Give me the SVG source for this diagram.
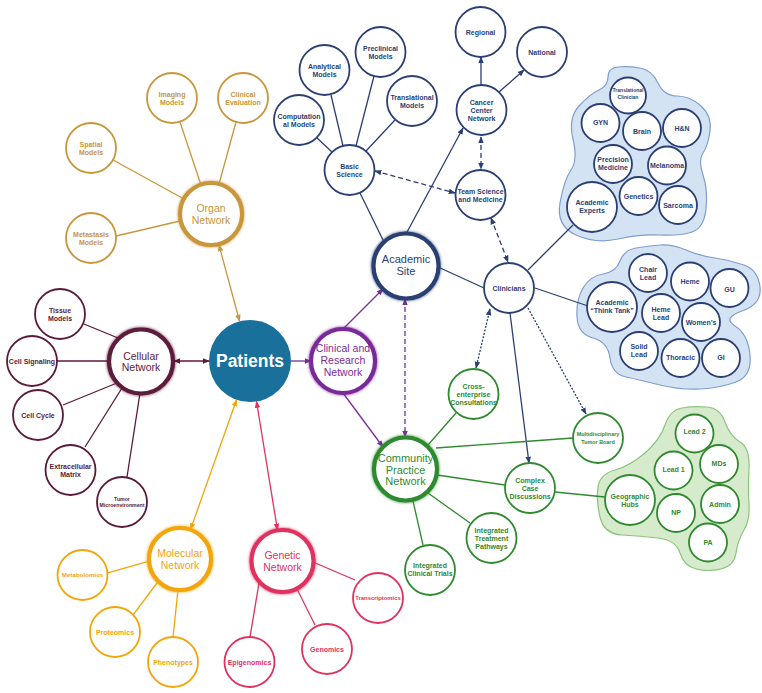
<svg xmlns="http://www.w3.org/2000/svg" width="762" height="693" viewBox="0 0 762 693">
<style>
text{font-family:'Liberation Sans Narrow','Liberation Sans',Arial,sans-serif;text-anchor:middle}
.s{font-size:7px;font-weight:bold}
.h{font-size:10.5px}
.n{fill:#fff;stroke-width:1.8}
.hub{fill:#fff;stroke-width:4.2}
.ln{fill:none;stroke-width:1.3}
.org{stroke:#c8963c}.torg{fill:#c8963c}
.cel{stroke:#5b1a3a}.tcel{fill:#5b1a3a}
.mol{stroke:#f2a50a}.tmol{fill:#f2a50a}
.gen{stroke:#e0325e}.tgen{fill:#e0325e}
.nav{stroke:#2b3f73}.tnav{fill:#2b3f73}
.pur{stroke:#7a2c98}.tpur{fill:#7a2c98}
.grn{stroke:#2f8a2f}.tgrn{fill:#2f8a2f}
.dash{stroke-dasharray:5 3}
.dot{stroke-dasharray:2 1.5}
.blobB{fill:#d3e3f3;stroke:#7f9fcb;stroke-width:1.2}
.blobG{fill:#d5ebcb;stroke:#8cc47e;stroke-width:1.2}
</style>
<defs>
<filter id="glow" x="-25%" y="-25%" width="150%" height="150%"><feGaussianBlur stdDeviation="1.4" result="b"/><feMerge><feMergeNode in="b"/><feMergeNode in="SourceGraphic"/></feMerge></filter>
<marker id="a-org" viewBox="0 0 10 10" refX="9" refY="5" markerWidth="7" markerHeight="7" markerUnits="userSpaceOnUse" orient="auto-start-reverse"><path d="M0,1 L10,5 L0,9 z" fill="#c8963c"/></marker>
<marker id="a-cel" viewBox="0 0 10 10" refX="9" refY="5" markerWidth="7" markerHeight="7" markerUnits="userSpaceOnUse" orient="auto-start-reverse"><path d="M0,1 L10,5 L0,9 z" fill="#5b1a3a"/></marker>
<marker id="a-mol" viewBox="0 0 10 10" refX="9" refY="5" markerWidth="7" markerHeight="7" markerUnits="userSpaceOnUse" orient="auto-start-reverse"><path d="M0,1 L10,5 L0,9 z" fill="#f2a50a"/></marker>
<marker id="a-gen" viewBox="0 0 10 10" refX="9" refY="5" markerWidth="7" markerHeight="7" markerUnits="userSpaceOnUse" orient="auto-start-reverse"><path d="M0,1 L10,5 L0,9 z" fill="#e0325e"/></marker>
<marker id="a-pur" viewBox="0 0 10 10" refX="9" refY="5" markerWidth="7" markerHeight="7" markerUnits="userSpaceOnUse" orient="auto-start-reverse"><path d="M0,1 L10,5 L0,9 z" fill="#7a2c98"/></marker>
<marker id="a-nav" viewBox="0 0 10 10" refX="9" refY="5" markerWidth="7" markerHeight="7" markerUnits="userSpaceOnUse" orient="auto-start-reverse"><path d="M0,1 L10,5 L0,9 z" fill="#2b3f73"/></marker>
</defs>
<rect width="762" height="693" fill="#fff"/>

<g id="clusters">
<path id="blob-experts" class="blobB" d="M640,68 Q652,70 658,83 Q664,96 677,96 Q690,96 701,106 Q712,116 710,131 Q708,146 703,153 Q698,160 703,175 Q708,190 706,209 Q704,228 692,232 Q680,236 660,235 Q640,234 618,239 Q596,244 576,235 Q556,226 560,203 Q564,180 571,170 Q578,160 573,139 Q568,118 579,106 Q590,94 599,90 Q608,86 608,77 Q608,68 618,67 Q628,66 640,68 Z"/>
<path id="blob-thinktank" class="blobB" d="M660,245 Q672,244 686,250 Q700,256 715,258 Q730,260 744,265 Q758,270 760,287 Q762,304 742,311 Q722,318 735,326 Q748,334 750,355 Q752,376 736,382 Q720,388 700,389 Q680,390 660,385 Q640,380 626,377 Q612,374 610,358 Q608,342 593,338 Q578,334 577,317 Q576,300 583,288 Q590,276 603,274 Q616,272 620,261 Q624,250 636,248 Q648,246 660,245 Z"/>
<path id="blob-hubs" class="blobG" d="M707,407 Q720,408 725,422 Q730,436 740,442 Q750,448 749,468 Q748,488 749,504 Q750,520 744,530 Q738,540 736,553 Q734,566 721,569 Q708,572 696,569 Q684,566 680,553 Q676,540 658,538 Q640,536 622,535 Q604,534 600,517 Q596,500 598,487 Q600,474 615,470 Q630,466 645,453 Q660,440 665,425 Q670,410 682,408 Q694,406 707,407 Z"/>
</g>

<g id="connectors">
<!-- organ -->
<line class="ln org" x1="201" y1="185" x2="180" y2="122"/>
<line class="ln org" x1="219" y1="184" x2="236" y2="122"/>
<line class="ln org" x1="184" y1="199" x2="113" y2="160"/>
<line class="ln org" x1="180" y1="221" x2="116" y2="236"/>
<line class="ln org" x1="219" y1="245" x2="239.5" y2="321" marker-start="url(#a-org)" marker-end="url(#a-org)"/>
<!-- cellular -->
<line class="ln cel" x1="118" y1="338" x2="84" y2="324"/>
<line class="ln cel" x1="109" y1="361" x2="57" y2="361"/>
<line class="ln cel" x1="117" y1="383" x2="63" y2="405"/>
<line class="ln cel" x1="122" y1="388" x2="85" y2="447"/>
<line class="ln cel" x1="140" y1="393" x2="127" y2="477"/>
<line class="ln cel" x1="174" y1="361" x2="209" y2="361" marker-start="url(#a-cel)" marker-end="url(#a-cel)"/>
<!-- molecular -->
<line class="ln mol" x1="149" y1="561" x2="107" y2="573"/>
<line class="ln mol" x1="157" y1="583" x2="133" y2="615"/>
<line class="ln mol" x1="178" y1="590" x2="173" y2="637"/>
<line class="ln mol" x1="190.5" y1="529.5" x2="236.5" y2="400" marker-start="url(#a-mol)" marker-end="url(#a-mol)"/>
<!-- genetic -->
<line class="ln gen" x1="259" y1="583" x2="250" y2="637"/>
<line class="ln gen" x1="297" y1="589" x2="315" y2="625"/>
<line class="ln gen" x1="313" y1="562" x2="355" y2="580"/>
<line class="ln gen" x1="277.5" y1="530" x2="256.5" y2="401.5" marker-start="url(#a-gen)" marker-end="url(#a-gen)"/>
<!-- clinical and research -->
<line class="ln pur" x1="291" y1="361" x2="311" y2="361" marker-end="url(#a-pur)"/>
<line class="ln pur" x1="343" y1="329" x2="383" y2="289" marker-end="url(#a-pur)"/>
<line class="ln pur" x1="343" y1="393" x2="383" y2="447" marker-end="url(#a-pur)"/>
<line class="ln pur dash" x1="405" y1="299" x2="405" y2="437" marker-start="url(#a-pur)" marker-end="url(#a-pur)"/>
<!-- academic -->
<line class="ln nav" x1="332" y1="152" x2="317" y2="138"/>
<line class="ln nav" x1="343" y1="146" x2="331" y2="95"/>
<line class="ln nav" x1="356" y1="146" x2="374" y2="76"/>
<line class="ln nav" x1="366" y1="151" x2="395" y2="120"/>
<line class="ln nav" x1="360" y1="193" x2="384" y2="242"/>
<line class="ln nav" x1="406" y1="234" x2="463" y2="128" marker-end="url(#a-nav)"/>
<line class="ln nav" x1="481" y1="85" x2="481" y2="57" marker-end="url(#a-nav)"/>
<line class="ln nav" x1="499" y1="92" x2="524" y2="70" marker-end="url(#a-nav)"/>
<line class="ln nav dash" x1="481" y1="137" x2="481" y2="169" marker-start="url(#a-nav)" marker-end="url(#a-nav)"/>
<line class="ln nav dash" x1="375" y1="171" x2="455" y2="193" marker-start="url(#a-nav)" marker-end="url(#a-nav)"/>
<line class="ln nav dash" x1="491" y1="218" x2="508" y2="262" marker-start="url(#a-nav)" marker-end="url(#a-nav)"/>
<line class="ln nav" x1="438" y1="267" x2="484" y2="288"/>
<line class="ln nav" x1="528" y1="270" x2="573" y2="225"/>
<line class="ln nav" x1="535" y1="288" x2="588" y2="306"/>
<line class="ln nav" x1="510" y1="313" x2="529" y2="463" marker-end="url(#a-nav)"/>
<line class="ln nav dot" x1="490" y1="309" x2="476" y2="368" marker-start="url(#a-nav)" marker-end="url(#a-nav)"/>
<line class="ln nav dot" x1="528" y1="308" x2="586" y2="414" marker-end="url(#a-nav)"/>
<!-- community -->
<line class="ln grn" x1="428" y1="445" x2="456" y2="413"/>
<line class="ln grn" x1="436" y1="448" x2="573" y2="438"/>
<line class="ln grn" x1="437" y1="475" x2="505" y2="485"/>
<line class="ln grn" x1="428" y1="493" x2="470" y2="523"/>
<line class="ln grn" x1="413" y1="501" x2="423" y2="545"/>
<line class="ln grn" x1="555" y1="492" x2="605" y2="497"/>
</g>

<g id="patients"><circle cx="250" cy="361" r="41" fill="#19709b"/><text x="250" y="367" style="font-size:17.5px;font-weight:bold" fill="#fff">Patients</text></g>

<g id="organ-network"><circle class="hub org" cx="211" cy="214" r="31" filter="url(#glow)"/><text class="h torg" x="211" y="212">Organ<tspan x="211" dy="11.5">Network</tspan></text></g>
<g id="imaging-models"><circle class="n org" cx="172" cy="98" r="25"/><text class="s torg" x="172" y="96.5">Imaging<tspan x="172" dy="8">Models</tspan></text></g>
<g id="clinical-evaluation"><circle class="n org" cx="243" cy="98" r="25"/><text class="s torg" x="243" y="96.5">Clinical<tspan x="243" dy="8">Evaluation</tspan></text></g>
<g id="spatial-models"><circle class="n org" cx="91" cy="148" r="25"/><text class="s torg" x="91" y="146.5">Spatial<tspan x="91" dy="8">Models</tspan></text></g>
<g id="metastasis-models"><circle class="n org" cx="91" cy="238" r="25"/><text class="s torg" x="91" y="236.5">Metastasis<tspan x="91" dy="8">Models</tspan></text></g>

<g id="cellular-network"><circle class="hub cel" cx="141" cy="361.5" r="32" filter="url(#glow)"/><text class="h tcel" x="141" y="359.5">Cellular<tspan x="141" dy="11.5">Network</tspan></text></g>
<g id="tissue-models"><circle class="n cel" cx="60" cy="314" r="25"/><text class="s tcel" x="60" y="312.5">Tissue<tspan x="60" dy="8">Models</tspan></text></g>
<g id="cell-signaling"><circle class="n cel" cx="32" cy="361" r="25"/><text class="s tcel" x="32" y="363.5">Cell Signaling</text></g>
<g id="cell-cycle"><circle class="n cel" cx="38" cy="415" r="25"/><text class="s tcel" x="38" y="417.5">Cell Cycle</text></g>
<g id="extracellular-matrix"><circle class="n cel" cx="70.5" cy="470" r="25"/><text class="s tcel" x="70.5" y="468.5">Extracellular<tspan x="70.5" dy="8">Matrix</tspan></text></g>
<g id="tumor-microenvironment"><circle class="n cel" cx="122" cy="502" r="25"/><text class="s tcel" style="font-size:5.2px" x="122" y="501">Tumor<tspan x="122" dy="5.8">Microenvironment</tspan></text></g>

<g id="molecular-network"><circle class="hub mol" cx="180" cy="559" r="31" filter="url(#glow)"/><text class="h tmol" x="180" y="557">Molecular<tspan x="180" dy="11.5">Network</tspan></text></g>
<g id="metabolomics"><circle class="n mol" cx="82.5" cy="575" r="25"/><text class="s tmol" style="font-size:6.2px" x="82.5" y="577.2">Metabolomics</text></g>
<g id="proteomics"><circle class="n mol" cx="115" cy="632" r="25"/><text class="s tmol" x="115" y="634.5">Proteomics</text></g>
<g id="phenotypes"><circle class="n mol" cx="173" cy="662" r="25"/><text class="s tmol" x="173" y="664.5">Phenotypes</text></g>

<g id="genetic-network"><circle class="hub gen" cx="282.5" cy="561" r="31" filter="url(#glow)"/><text class="h tgen" x="282.5" y="559">Genetic<tspan x="282.5" dy="11.5">Network</tspan></text></g>
<g id="epigenomics"><circle class="n gen" cx="249.5" cy="662" r="25"/><text class="s tgen" x="249.5" y="664.5">Epigenomics</text></g>
<g id="genomics"><circle class="n gen" cx="327" cy="649" r="25"/><text class="s tgen" x="327" y="651.5">Genomics</text></g>
<g id="transcriptomics"><circle class="n gen" cx="378" cy="598" r="25"/><text class="s tgen" style="font-size:5.9px" x="378" y="600">Transcriptomics</text></g>

<g id="clinical-research-network"><circle class="hub pur" cx="343" cy="361" r="32" filter="url(#glow)"/><text class="h tpur" x="343" y="352">Clinical and<tspan x="343" dy="11.8">Research</tspan><tspan x="343" dy="11.8">Network</tspan></text></g>

<g id="academic-site"><circle class="hub nav" cx="406" cy="266" r="32.5" filter="url(#glow)"/><text class="h tnav" x="406" y="263" style="font-size:11px">Academic<tspan x="406" dy="11.7">Site</tspan></text></g>
<g id="basic-science"><circle class="n nav" cx="349.5" cy="170" r="25"/><text class="s tnav" x="349.5" y="168.5">Basic<tspan x="349.5" dy="8">Science</tspan></text></g>
<g id="computational-models"><circle class="n nav" cx="299" cy="120" r="25"/><text class="s tnav" x="299" y="118.5">Computation<tspan x="299" dy="8">al Models</tspan></text></g>
<g id="analytical-models"><circle class="n nav" cx="324.5" cy="70" r="25"/><text class="s tnav" x="324.5" y="68.5">Analytical<tspan x="324.5" dy="8">Models</tspan></text></g>
<g id="preclinical-models"><circle class="n nav" cx="380.5" cy="52" r="25"/><text class="s tnav" x="380.5" y="50.5">Preclinical<tspan x="380.5" dy="8">Models</tspan></text></g>
<g id="translational-models"><circle class="n nav" cx="412" cy="101" r="25"/><text class="s tnav" x="412" y="99.5">Translational<tspan x="412" dy="8">Models</tspan></text></g>
<g id="cancer-center-network"><circle class="n nav" cx="481.5" cy="110" r="25"/><text class="s tnav" x="481.5" y="104.5">Cancer<tspan x="481.5" dy="8.2">Center</tspan><tspan x="481.5" dy="8.2">Network</tspan></text></g>
<g id="regional"><circle class="n nav" cx="480.5" cy="32" r="25"/><text class="s tnav" x="480.5" y="34.5">Regional</text></g>
<g id="national"><circle class="n nav" cx="542" cy="52" r="25"/><text class="s tnav" x="542" y="54.5">National</text></g>
<g id="team-science"><circle class="n nav" cx="480.5" cy="195" r="25"/><text class="s tnav" x="480.5" y="193.5">Team Science<tspan x="480.5" dy="8">and Medicine</tspan></text></g>
<g id="clinicians"><circle class="n nav" cx="509" cy="288" r="25"/><text class="s tnav" x="509" y="290.5">Clinicians</text></g>

<g id="translational-clinician"><circle class="n nav" cx="628" cy="95.5" r="18"/><text class="s tnav" style="font-size:5px" x="628" y="92">Translational<tspan x="628" dy="6.5">Clinician</tspan></text></g>
<g id="gyn"><circle class="n nav" cx="600.5" cy="123" r="19"/><text class="s tnav" x="600.5" y="125.3">GYN</text></g>
<g id="brain"><circle class="n nav" cx="642" cy="131" r="19"/><text class="s tnav" x="642" y="133.5">Brain</text></g>
<g id="hn"><circle class="n nav" cx="682" cy="128" r="19"/><text class="s tnav" x="682" y="130.5">H&amp;N</text></g>
<g id="precision-medicine"><circle class="n nav" cx="613" cy="164" r="19"/><text class="s tnav" x="613" y="162">Precision<tspan x="613" dy="8">Medicine</tspan></text></g>
<g id="melanoma"><circle class="n nav" cx="667" cy="165.5" r="19"/><text class="s tnav" x="667" y="168">Melanoma</text></g>
<g id="genetics"><circle class="n nav" cx="638.5" cy="196" r="19"/><text class="s tnav" x="638.5" y="198.5">Genetics</text></g>
<g id="sarcoma"><circle class="n nav" cx="678" cy="205" r="19"/><text class="s tnav" x="678" y="207.5">Sarcoma</text></g>
<g id="academic-experts"><circle class="n nav" cx="592" cy="207" r="25"/><text class="s tnav" x="592" y="205.2">Academic<tspan x="592" dy="8">Experts</tspan></text></g>

<g id="academic-think-tank"><circle class="n nav" cx="612" cy="307" r="25"/><text class="s tnav" x="612" y="305.2">Academic<tspan x="612" dy="8">“Think Tank”</tspan></text></g>
<g id="chair-lead"><circle class="n nav" cx="648" cy="273" r="19"/><text class="s tnav" x="648" y="271.8">Chair<tspan x="648" dy="7.8">Lead</tspan></text></g>
<g id="heme"><circle class="n nav" cx="690" cy="281.5" r="19"/><text class="s tnav" x="690" y="283.8">Heme</text></g>
<g id="gu"><circle class="n nav" cx="729.5" cy="288" r="19"/><text class="s tnav" x="729.5" y="291.5">GU</text></g>
<g id="heme-lead"><circle class="n nav" cx="661" cy="313" r="19"/><text class="s tnav" x="661" y="311.8">Heme<tspan x="661" dy="8">Lead</tspan></text></g>
<g id="womens"><circle class="n nav" cx="701" cy="322" r="19"/><text class="s tnav" x="701" y="324.5">Women’s</text></g>
<g id="solid-lead"><circle class="n nav" cx="639" cy="351" r="19"/><text class="s tnav" x="639" y="349.2">Solid<tspan x="639" dy="8">Lead</tspan></text></g>
<g id="thoracic"><circle class="n nav" cx="680.5" cy="358" r="19"/><text class="s tnav" x="680.5" y="360.2">Thoracic</text></g>
<g id="gi"><circle class="n nav" cx="721" cy="358" r="19"/><text class="s tnav" x="721" y="360.2">GI</text></g>

<g id="community-practice-network"><circle class="hub grn" cx="405.5" cy="469" r="31.5" filter="url(#glow)"/><text class="h tgrn" style="font-size:11px" x="405.5" y="462.2">Community<tspan x="405.5" dy="11.5">Practice</tspan><tspan x="405.5" dy="11.5">Network</tspan></text></g>
<g id="cross-enterprise"><circle class="n grn" cx="473.5" cy="394" r="25"/><text class="s tgrn" x="473.5" y="388.5">Cross-<tspan x="473.5" dy="8.3">enterprise</tspan><tspan x="473.5" dy="8.3">Consultations</tspan></text></g>
<g id="multidisciplinary-tumor-board"><circle class="n grn" cx="598" cy="438" r="25"/><text class="s tgrn" style="font-size:5.4px" x="598" y="436.2">Multidisciplinary<tspan x="598" dy="7.3">Tumor Board</tspan></text></g>
<g id="complex-case-discussions"><circle class="n grn" cx="530" cy="488" r="25"/><text class="s tgrn" x="530" y="482.5">Complex<tspan x="530" dy="8.3">Case</tspan><tspan x="530" dy="8.3">Discussions</tspan></text></g>
<g id="integrated-treatment-pathways"><circle class="n grn" cx="491.5" cy="538" r="25"/><text class="s tgrn" x="491.5" y="532.5">Integrated<tspan x="491.5" dy="8">Treatment</tspan><tspan x="491.5" dy="8">Pathways</tspan></text></g>
<g id="integrated-clinical-trials"><circle class="n grn" cx="430" cy="570" r="25"/><text class="s tgrn" x="430" y="567.5">Integrated<tspan x="430" dy="8.3">Clinical Trials</tspan></text></g>
<g id="geographic-hubs"><circle class="n grn" cx="630" cy="500" r="25"/><text class="s tgrn" x="630" y="499.2">Geographic<tspan x="630" dy="7.7">Hubs</tspan></text></g>
<g id="lead-2"><circle class="n grn" cx="694.5" cy="433.5" r="19"/><text class="s tgrn" x="694.5" y="434.2">Lead 2</text></g>
<g id="lead-1"><circle class="n grn" cx="673.5" cy="470.5" r="19"/><text class="s tgrn" x="673.5" y="471.8">Lead 1</text></g>
<g id="mds"><circle class="n grn" cx="719" cy="464" r="19"/><text class="s tgrn" x="719" y="465.8">MDs</text></g>
<g id="admin"><circle class="n grn" cx="720" cy="504" r="19"/><text class="s tgrn" x="720" y="506.8">Admin</text></g>
<g id="np"><circle class="n grn" cx="676" cy="513" r="19"/><text class="s tgrn" x="676" y="515.2">NP</text></g>
<g id="pa"><circle class="n grn" cx="708" cy="542.5" r="19"/><text class="s tgrn" x="708" y="545.2">PA</text></g>
</svg>
